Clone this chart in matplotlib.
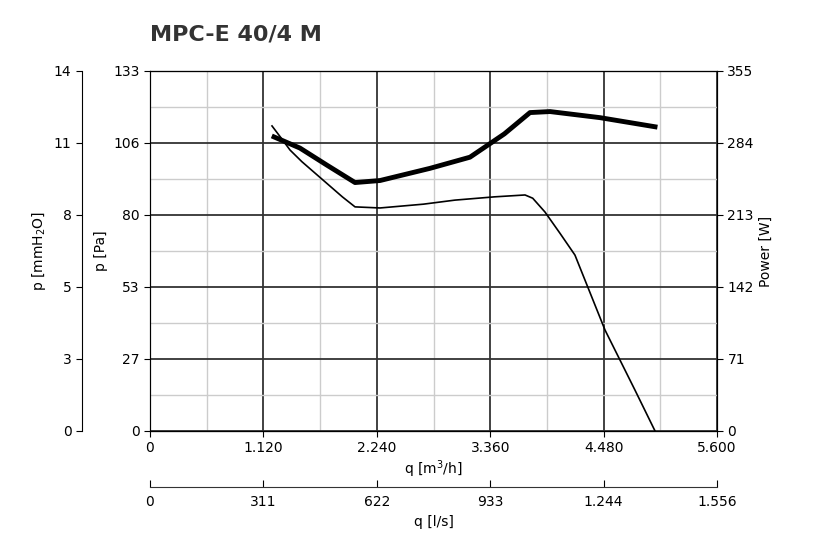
import matplotlib
matplotlib.use("Agg")
import matplotlib.pyplot as plt
from matplotlib.ticker import FixedLocator

q_pa = [1205, 1300, 1383, 1500, 1700, 1900, 2025, 2272, 2700, 3012, 3400, 3704, 3780, 3901, 4050, 4197, 4494, 4790, 4988]
p_pa = [112.7, 108, 103.8, 99.5, 93, 86.5, 82.8, 82.4, 83.8, 85.3, 86.5, 87.2, 86, 80.9, 73, 65, 37.3, 15.1, 0]
q_w = [1225, 1481, 1750, 2025, 2272, 2765, 3160, 3500, 3753, 3951, 4444, 4988]
p_w = [290, 279, 262, 245, 247, 259, 270, 293, 314, 315, 309, 300]

x_ticks = [0, 1120, 2240, 3360, 4480, 5600]
x_labels = ["0", "1.120", "2.240", "3.360", "4.480", "5.600"]
ls_labels = ["0", "311", "622", "933", "1.244", "1.556"]
pa_ticks = [0, 27, 53, 80, 106, 133]
mm_labels = ["0", "3", "5", "8", "11", "14"]
w_labels = ["0", "71", "142", "213", "284", "355"]

fig = plt.figure(figsize=(8.17, 5.42), dpi=100)
ax = fig.add_axes([150/817, 111/542, 567/817, 360/542])
ax.set_xlim(0, 5600); ax.set_ylim(0, 133)
ax.set_xticks(x_ticks); ax.set_xticklabels(x_labels)
ax.set_yticks([0, 26.6, 53.2, 79.8, 106.4, 133]); ax.set_yticklabels([str(t) for t in pa_ticks])
ax.xaxis.set_minor_locator(FixedLocator([560 + 1120*i for i in range(5)]))
ax.yaxis.set_minor_locator(FixedLocator([13.3 + 26.6*i for i in range(5)]))
ax.grid(True, which="major", color="#333333", lw=1.3)
ax.grid(True, which="minor", color="#cccccc", lw=1.0)
ax.tick_params(which="minor", length=0)
ax.set_axisbelow(True)
for s in ax.spines.values(): s.set_color("#333333")
ax.tick_params(labelsize=10, length=4)
ax.set_xlabel("q [m$^3$/h]", fontsize=10, labelpad=2)
ax.set_ylabel("p [Pa]", fontsize=10)
ax.plot(q_pa, p_pa, color="black", lw=1.2)

axw = ax.twinx()
axw.set_ylim(0, 355)
axw.set_yticks([0, 71, 142, 213, 284, 355]); axw.set_yticklabels(w_labels)
axw.tick_params(labelsize=10, length=4)
axw.set_ylabel("Power [W]", fontsize=10)
axw.plot(q_w, p_w, color="black", lw=3.5)

axm = ax.twinx()
axm.spines["left"].set_position(("outward", 49))
axm.spines["left"].set_visible(True)
axm.spines["right"].set_visible(False)
axm.yaxis.set_ticks_position("left"); axm.yaxis.set_label_position("left")
axm.set_ylim(0, 133)
axm.set_yticks([0, 26.6, 53.2, 79.8, 106.4, 133]); axm.set_yticklabels(mm_labels)
axm.tick_params(labelsize=10, length=4)
axm.set_ylabel("p [mmH$_2$O]", fontsize=10)

axl = fig.add_axes([150/817, 55/542, 567/817, 0.0001])
axl.set_xlim(0, 5600); axl.set_ylim(0, 1)
axl.set_xticks(x_ticks); axl.set_xticklabels(ls_labels)
axl.set_yticks([])
for k in ["left", "right", "top"]: axl.spines[k].set_visible(False)
axl.spines["bottom"].set_color("#333333")
axl.tick_params(axis="x", direction="in", length=5, labelsize=10, pad=6)
axl.set_xlabel("q [l/s]", fontsize=10, labelpad=4)

fig.text(150/817, 1 - 35/542, "MPC-E 40/4 M", fontsize=16, fontweight="bold", color="#333333", va="center")
fig.savefig("out.png", dpi=100)
